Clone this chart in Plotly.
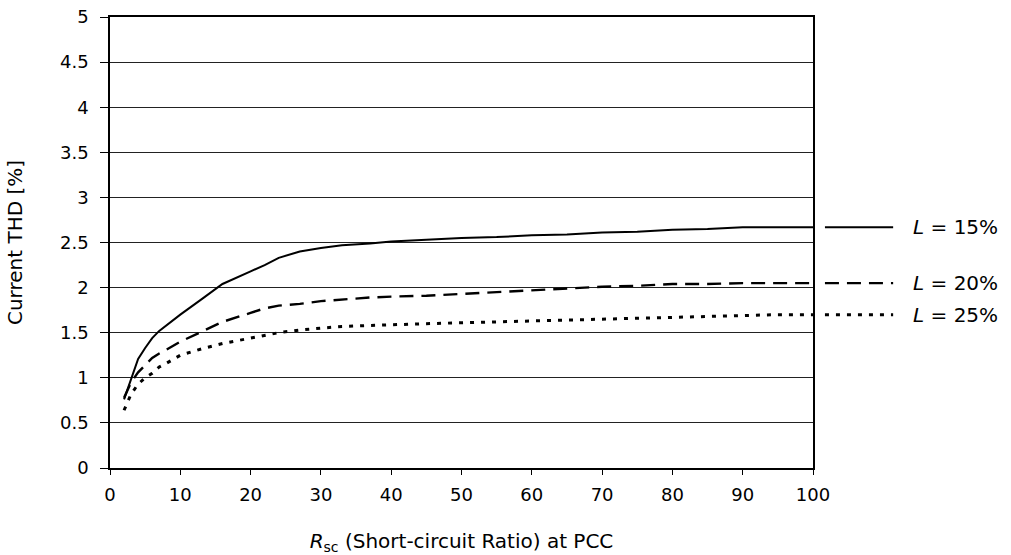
import plotly.graph_objects as go

rsc = [2, 3, 4, 5, 6, 7, 8, 10, 13, 16, 20, 22, 24, 27, 30, 33, 37, 40, 45, 50, 55, 60, 65, 70, 75, 80, 85, 90, 95, 100]
thd_15 = [0.76, 0.98, 1.21, 1.33, 1.44, 1.52, 1.58, 1.70, 1.87, 2.04, 2.18, 2.25, 2.33, 2.40, 2.44, 2.47, 2.49, 2.51, 2.53, 2.55, 2.56, 2.58, 2.59, 2.61, 2.62, 2.64, 2.65, 2.67, 2.67, 2.67]
thd_20 = [0.78, 0.95, 1.06, 1.14, 1.22, 1.27, 1.31, 1.40, 1.51, 1.62, 1.72, 1.77, 1.80, 1.82, 1.85, 1.87, 1.89, 1.90, 1.91, 1.93, 1.95, 1.97, 1.99, 2.01, 2.02, 2.04, 2.04, 2.05, 2.05, 2.05]
thd_25 = [0.64, 0.82, 0.93, 1.00, 1.05, 1.12, 1.16, 1.25, 1.32, 1.38, 1.44, 1.47, 1.50, 1.53, 1.55, 1.57, 1.58, 1.59, 1.60, 1.61, 1.62, 1.63, 1.64, 1.65, 1.66, 1.67, 1.68, 1.69, 1.70, 1.70]
labels = ["<i>L</i> = 15%", "<i>L</i> = 20%", "<i>L</i> = 25%"]
series = [thd_15, thd_20, thd_25]
dashes = ["solid", "14px,8px", "4px,7px"]
widths = [2, 2.4, 3]
ytick_vals = [0, 0.5, 1, 1.5, 2, 2.5, 3, 3.5, 4, 4.5, 5]
ytick_text = ["0", "0.5", "1", "1.5", "2", "2.5", "3", "3.5", "4", "4.5", "5"]
xtick_vals = [0, 10, 20, 30, 40, 50, 60, 70, 80, 90, 100]

FONT = "DejaVu Sans, Liberation Sans, Arial, sans-serif"

fig = go.Figure()
for ys, d, w in zip(series, dashes, widths):
    fig.add_trace(go.Scatter(x=rsc, y=ys, mode="lines",
                             line=dict(color="black", width=w, dash=d),
                             showlegend=False, hoverinfo="skip"))

# Legend-like labels at the right of the plot
for ys, d, w, lab in zip(series, dashes, widths, labels):
    fig.add_shape(type="line", xref="paper", yref="y",
                  x0=1.017, x1=1.114, y0=ys[-1], y1=ys[-1],
                  line=dict(color="black", width=w, dash=d))
    fig.add_annotation(xref="paper", yref="y", x=1.139, y=ys[-1],
                       text=lab, showarrow=False, xanchor="left", yanchor="middle",
                       font=dict(size=20, color="black", family=FONT))

fig.update_layout(
    width=1011, height=555,
    margin=dict(l=110, r=198, t=17, b=87),
    paper_bgcolor="white", plot_bgcolor="white",
    font=dict(family=FONT, size=18, color="black"),
    xaxis=dict(range=[0, 100], tickvals=xtick_vals, ticks="outside", ticklen=5,
               ticklabelstandoff=5, automargin=False,
               tickcolor="black", showline=True, linecolor="black", linewidth=1.5,
               mirror=True, showgrid=False, zeroline=False,
               title=dict(text="<i>R</i><sub>sc</sub> (Short-circuit Ratio) at PCC", standoff=34,
                          font=dict(size=20))),
    yaxis=dict(range=[0, 5], tickvals=ytick_vals, ticktext=ytick_text, ticks="outside",
               ticklen=8, ticklabelstandoff=8, tickcolor="black", showline=True,
               linecolor="black", linewidth=1.5, automargin=False,
               mirror=True, showgrid=True, gridcolor="#222222", gridwidth=0.8, zeroline=False,
               title=dict(text="Current THD [%]", standoff=32, font=dict(size=20))),
)

fig.write_html("out.html")
